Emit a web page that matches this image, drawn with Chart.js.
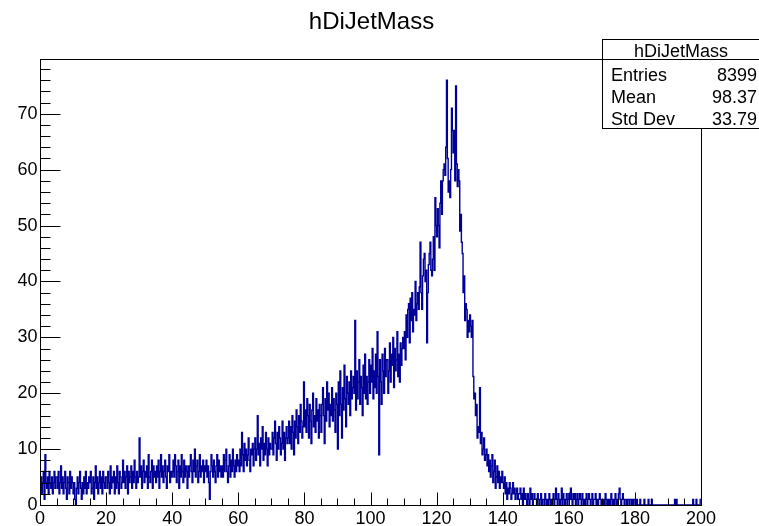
<!DOCTYPE html>
<html>
<head>
<meta charset="utf-8">
<title>hDiJetMass</title>
<script src="https://cdn.jsdelivr.net/npm/chart.js@4.4.1/dist/chart.umd.min.js"></script>
<style>
  html, body { margin: 0; padding: 0; background: #fff; }
  #wrap { width: 759px; height: 526px; }
</style>
</head>
<body>
<div id="wrap"><canvas id="histChart" width="759" height="526"></canvas></div>
<script>
// ===== Data =====
const histTitle = "hDiJetMass";
const binLow = 0;
const binWidth = 0.25;

// counts per bin, 20 bins (5 GeV) per row
const binCounts = [
  3, 5, 2, 4, 6, 1, 9, 4, 3, 5, 2, 6, 4, 3, 5, 2, 4, 6, 3, 5,                 // 0-5
  5, 3, 6, 2, 4, 7, 3, 5, 2, 4, 6, 3, 1, 5, 4, 2, 6, 3, 5, 4,                 // 5-10
  2, 4, 1, 0, 3, 5, 2, 4, 6, 3, 1, 4, 2, 5, 3, 6, 2, 4, 3, 5,                 // 10-15
  4, 6, 2, 3, 5, 1, 4, 7, 3, 5, 2, 4, 6, 3, 5, 2, 6, 4, 3, 5,                 // 15-20
  5, 3, 6, 4, 2, 7, 3, 5, 4, 6, 2, 5, 3, 7, 4, 2, 6, 5, 3, 4,                 // 20-25
  8, 4, 6, 3, 5, 7, 2, 6, 4, 5, 7, 3, 6, 4, 8, 5, 3, 6, 4, 5,                 // 25-30
  12, 5, 7, 3, 6, 8, 4, 6, 5, 7, 3, 9, 5, 4, 6, 8, 3, 7, 5, 6,                // 30-35
  4, 7, 5, 8, 3, 6, 9, 5, 7, 4, 6, 8, 5, 3, 7, 6, 9, 4, 6, 5,                 // 35-40
  6, 8, 5, 9, 7, 4, 6, 8, 3, 7, 5, 9, 6, 4, 8, 5, 7, 6, 3, 7,                 // 40-45
  5, 7, 9, 6, 4, 8, 6, 10, 5, 7, 8, 4, 6, 9, 5, 7, 6, 8, 4, 7,                // 45-50
  6, 8, 5, 7, 4, 1, 6, 9, 7, 5, 8, 6, 4, 7, 9, 5, 8, 6, 7, 5,                 // 50-55
  7, 5, 9, 6, 8, 10, 6, 4, 7, 9, 5, 8, 6, 10, 7, 5, 8, 6, 9, 7,               // 55-60
  8, 6, 10, 7, 13, 9, 6, 11, 8, 10, 7, 9, 12, 8, 6, 10, 9, 11, 7, 10,         // 60-65
  12, 8, 10, 16, 9, 11, 7, 12, 10, 14, 8, 11, 9, 13, 10, 7, 12, 9, 11, 10,    // 65-70
  10, 13, 9, 12, 15, 11, 8, 13, 10, 14, 12, 9, 11, 15, 10, 13, 8, 12, 14, 11, // 70-75
  12, 15, 11, 14, 10, 16, 13, 9, 15, 12, 17, 14, 11, 16, 13, 18, 15, 12, 14, 22, // 75-80
  14, 17, 13, 19, 16, 12, 18, 15, 11, 17, 20, 14, 16, 13, 19, 15, 17, 12, 18, 16, // 80-85
  13, 18, 21, 16, 11, 19, 15, 22, 17, 20, 14, 18, 16, 21, 15, 19, 17, 13, 20, 18, // 85-90
  10, 22, 16, 24, 18, 12, 21, 17, 25, 19, 14, 23, 20, 18, 22, 16, 24, 19, 21, 23, // 90-95
  20, 33, 17, 24, 19, 22, 26, 18, 23, 21, 16, 25, 20, 27, 19, 23, 18, 22, 26, 20, // 95-100
  25, 22, 28, 19, 24, 21, 27, 20, 31, 23, 9, 26, 22, 18, 27, 24, 20, 28, 23, 26,  // 100-105
  26, 20, 24, 29, 22, 27, 25, 30, 21, 28, 24, 26, 31, 23, 27, 22, 29, 25, 28, 30, // 105-110
  28, 31, 26, 34, 30, 35, 36, 29, 37, 33, 38, 31, 35, 34, 40, 33, 36, 38, 35, 39, // 110-115
  47, 38, 35, 41, 44, 45, 40, 42, 29, 38, 43, 45, 47, 42, 41, 44, 48, 42, 55, 50, // 115-120
  48, 53, 50, 46, 54, 58, 52, 58, 60, 61, 59, 64, 76, 62, 56, 58, 55, 60, 71, 67, // 120-125
  63, 67, 58, 75, 61, 57, 60, 58, 49, 52, 47, 45, 38, 41, 33, 36, 35, 30, 33, 31, // 125-130
  34, 32, 30, 33, 23, 19, 20, 16, 18, 12, 14, 13, 21, 11, 13, 9, 10, 12, 8, 9,    // 130-135
  10, 7, 9, 6, 8, 5, 7, 9, 4, 6, 8, 3, 5, 7, 4, 6, 3, 5, 4, 6,                // 135-140
  4, 3, 5, 2, 4, 1, 3, 2, 4, 3, 1, 2, 4, 2, 3, 1, 2, 3, 1, 2,                 // 140-145
  2, 3, 1, 2, 0, 3, 1, 2, 1, 0, 2, 1, 0, 3, 1, 2, 0, 1, 2, 1,                 // 145-150
  1, 0, 2, 1, 0, 1, 2, 0, 1, 1, 0, 2, 1, 0, 1, 0, 2, 1, 0, 1,                 // 150-155
  1, 2, 0, 1, 3, 1, 0, 2, 1, 0, 1, 3, 0, 2, 1, 0, 1, 2, 0, 1,                 // 155-160
  2, 1, 3, 1, 0, 2, 1, 2, 0, 1, 2, 0, 1, 2, 1, 0, 2, 1, 0, 1,                 // 160-165
  1, 2, 0, 1, 2, 1, 0, 1, 2, 0, 1, 1, 2, 0, 1, 0, 1, 2, 1, 0,                 // 165-170
  1, 0, 1, 0, 2, 1, 0, 1, 0, 1, 0, 2, 1, 0, 1, 0, 2, 1, 0, 1,                 // 170-175
  2, 3, 1, 0, 1, 2, 1, 0, 1, 1, 0, 1, 1, 0, 1, 1, 0, 1, 0, 1,                 // 175-180
  1, 0, 1, 0, 0, 0, 1, 0, 0, 0, 0, 1, 0, 0, 0, 0, 1, 0, 0, 0,                 // 180-185
  1, 0, 0, 0, 0, 0, 0, 0, 0, 0, 0, 0, 0, 0, 0, 0, 0, 0, 0, 0,                 // 185-190
  0, 0, 0, 0, 0, 0, 0, 0, 1, 0, 1, 0, 0, 0, 0, 0, 0, 0, 0, 0,                 // 190-195
  0, 0, 0, 0, 0, 0, 0, 0, 0, 0, 1, 0, 0, 0, 1, 0, 0, 0, 0, 1                  // 195-200
];

const xMin = 0, xMax = 200;
const yMin = 0, yMax = 79.8;
const xTicks = [0, 20, 40, 60, 80, 100, 120, 140, 160, 180, 200];
const yTicks = [0, 10, 20, 30, 40, 50, 60, 70];
const xMinorStep = 5;
const yMinorStep = 2;

const statLabels = ["Entries", "Mean", "Std Dev"];
const statValues = ["8399", "98.37", "33.79"];

// ===== Helpers =====
const el = (id) => document.getElementById(id);
const FONT = '"Liberation Sans", Arial, Helvetica, sans-serif';
const HIST_COLOR = "#000099";
const crisp = (v) => Math.round(v) + 0.5;

// step points: left edge of every bin, plus closing point at the upper edge
const points = binCounts.map((c, i) => ({ x: binLow + i * binWidth, y: c }));
points.push({ x: binLow + binCounts.length * binWidth, y: binCounts[binCounts.length - 1] });

// ===== Frame, axes, title, stats box (ROOT look) =====
const rootFrame = {
  id: "rootFrame",
  beforeDraw(chart) {
    const c = chart.ctx;
    c.save();
    c.fillStyle = "#fff";
    c.fillRect(0, 0, chart.width, chart.height);
    c.restore();
  },
  afterDraw(chart) {
    const c = chart.ctx;
    const xs = chart.scales.x;
    const ys = chart.scales.y;
    const L = crisp(xs.getPixelForValue(xMin));
    const R = crisp(xs.getPixelForValue(xMax));
    const B = crisp(ys.getPixelForValue(yMin));
    const T = crisp(ys.getPixelForValue(yMax));

    c.save();
    c.strokeStyle = "#000";
    c.lineWidth = 1;

    // frame box
    c.strokeRect(L, T, R - L, B - T);

    // x ticks (inside, pointing up)
    c.beginPath();
    for (let v = xMin; v <= xMax + 1e-9; v += xMinorStep) {
      const px = crisp(xs.getPixelForValue(v));
      const len = xTicks.includes(v) ? 13 : 7;
      c.moveTo(px, B);
      c.lineTo(px, B - len);
    }
    // y ticks (inside, pointing right)
    for (let v = yMin; v <= yMax + 1e-9; v += yMinorStep) {
      const py = crisp(ys.getPixelForValue(v));
      const len = yTicks.includes(v) ? 20 : 10;
      c.moveTo(L, py);
      c.lineTo(L + len, py);
    }
    c.stroke();

    // tick labels
    c.fillStyle = "#000";
    c.font = "18px " + FONT;
    c.textAlign = "center";
    c.textBaseline = "top";
    xTicks.forEach((v) => {
      c.fillText(String(v), xs.getPixelForValue(v), B + 5);
    });
    c.textAlign = "right";
    c.textBaseline = "middle";
    yTicks.forEach((v) => {
      c.fillText(String(v), L - 3, ys.getPixelForValue(v));
    });

    // title
    c.font = "24px " + FONT;
    c.textAlign = "center";
    c.textBaseline = "alphabetic";
    c.fillText(histTitle, 371.5, 29);

    // stats box
    const bx = 602.5, by = 39.5, bw = 160, bh = 89;
    c.fillStyle = "#fff";
    c.fillRect(bx, by, bw, bh);
    c.strokeRect(bx, by, bw, bh);
    c.beginPath();
    c.moveTo(bx, 59.5);
    c.lineTo(bx + bw, 59.5);
    c.stroke();

    c.fillStyle = "#000";
    c.font = "18px " + FONT;
    c.textAlign = "center";
    c.fillText(histTitle, 681, 57);
    const rowBase = [81, 103, 125];
    statLabels.forEach((lab, i) => {
      c.textAlign = "left";
      c.fillText(lab, 611, rowBase[i]);
      c.textAlign = "right";
      c.fillText(statValues[i], 757, rowBase[i]);
    });
    c.restore();
  }
};

// ===== Chart =====
new Chart(el("histChart"), {
  type: "line",
  data: {
    datasets: [{
      label: histTitle,
      data: points,
      borderColor: HIST_COLOR,
      borderWidth: 1.4,
      pointRadius: 0,
      stepped: true,
      fill: false,
      tension: 0,
      clip: 3
    }]
  },
  options: {
    responsive: false,
    animation: false,
    devicePixelRatio: 1,
    parsing: false,
    layout: { padding: { left: 40, right: 58, top: 59, bottom: 21 } },
    plugins: {
      legend: { display: false },
      tooltip: { enabled: false },
      title: { display: false }
    },
    scales: {
      x: { type: "linear", min: xMin, max: xMax, display: false },
      y: { type: "linear", min: yMin, max: yMax, display: false }
    }
  },
  plugins: [rootFrame]
});
</script>
</body>
</html>
